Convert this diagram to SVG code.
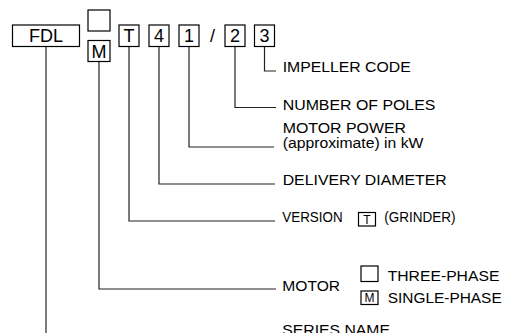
<svg xmlns="http://www.w3.org/2000/svg" width="506" height="333" viewBox="0 0 506 333">
<style>
.box{fill:#fff;stroke:#000;stroke-width:1.2}
.big{font-family:"Liberation Sans",Arial,sans-serif;font-size:18px;fill:#000;text-anchor:middle}
.lbl{font-family:"Liberation Sans",Arial,sans-serif;font-size:15.5px;fill:#000}
.sm{font-family:"Liberation Sans",Arial,sans-serif;font-size:14px;fill:#000}
.tiny{font-family:"Liberation Sans",Arial,sans-serif;font-size:12px;fill:#000;text-anchor:middle}
.conn{fill:none;stroke:#222;stroke-width:1.2}
</style>
<rect width="506" height="333" fill="#fff"/>
<g id="connectors">
<path class="conn" d="M264.5 46.5V71H276"/>
<path class="conn" d="M235 46.5V107.5H276"/>
<path class="conn" d="M189 46.5V147H274"/>
<path class="conn" d="M159 46.5V184H275"/>
<path class="conn" d="M129 46.5V221H275"/>
<path class="conn" d="M99 61.5V289H276"/>
<path class="conn" d="M46 46.5V333"/>
</g>
<g id="fdl">
<rect class="box" x="12.5" y="25" width="67" height="21.5"/>
<text class="big" x="46" y="42">FDL</text>
</g>
<g id="motor-blank">
<rect class="box" x="88" y="10" width="22" height="21"/>
</g>
<g id="motor-m">
<rect class="box" x="88" y="40.5" width="22" height="21"/>
<text class="big" x="99" y="58">M</text>
</g>
<g id="version-t">
<rect class="box" x="119" y="25" width="20" height="21.5"/>
<text class="big" x="129" y="42">T</text>
</g>
<g id="diameter-4">
<rect class="box" x="149" y="25" width="20" height="21.5"/>
<text class="big" x="159" y="42">4</text>
</g>
<g id="power-1">
<rect class="box" x="179" y="25" width="20" height="21.5"/>
<text class="big" x="189" y="42">1</text>
</g>
<g id="slash">
<text class="big" x="212.5" y="42">/</text>
</g>
<g id="poles-2">
<rect class="box" x="225" y="25" width="20" height="21.5"/>
<text class="big" x="235" y="42">2</text>
</g>
<g id="impeller-3">
<rect class="box" x="254.5" y="25" width="20" height="21.5"/>
<text class="big" x="264.5" y="42">3</text>
</g>
<g id="label-impeller">
<text class="lbl" x="282.7" y="71.7" textLength="128" lengthAdjust="spacingAndGlyphs">IMPELLER CODE</text>
</g>
<g id="label-poles">
<text class="lbl" x="282.7" y="110" textLength="152.7" lengthAdjust="spacingAndGlyphs">NUMBER OF POLES</text>
</g>
<g id="label-power">
<text class="lbl" x="282.7" y="133.3" textLength="123.3" lengthAdjust="spacingAndGlyphs">MOTOR POWER</text>
<text class="lbl" x="282.7" y="148" textLength="140.7" lengthAdjust="spacingAndGlyphs">(approximate) in kW</text>
</g>
<g id="label-diameter">
<text class="lbl" x="282.7" y="185" textLength="164" lengthAdjust="spacingAndGlyphs">DELIVERY DIAMETER</text>
</g>
<g id="label-version">
<text class="sm" x="282.3" y="221.7" textLength="60.3" lengthAdjust="spacingAndGlyphs">VERSION</text>
<rect class="box" x="358.5" y="212.5" width="17" height="13.5"/>
<text class="tiny" x="367" y="223.7">T</text>
<text class="sm" x="384.3" y="221.7" textLength="71.3" lengthAdjust="spacingAndGlyphs">(GRINDER)</text>
</g>
<g id="label-motor">
<text class="lbl" x="282.3" y="291" textLength="57.7" lengthAdjust="spacingAndGlyphs">MOTOR</text>
<rect class="box" x="361" y="266" width="17" height="15.5"/>
<text class="lbl" x="387.7" y="280.7" textLength="111.7" lengthAdjust="spacingAndGlyphs">THREE-PHASE</text>
<rect class="box" x="361" y="291" width="17" height="13.5"/>
<text class="tiny" x="369.5" y="302.3">M</text>
<text class="lbl" x="387.7" y="303.3" textLength="114" lengthAdjust="spacingAndGlyphs">SINGLE-PHASE</text>
</g>
<g id="label-series">
<text class="lbl" x="282.3" y="335" textLength="107.7" lengthAdjust="spacingAndGlyphs">SERIES NAME</text>
</g>
</svg>
